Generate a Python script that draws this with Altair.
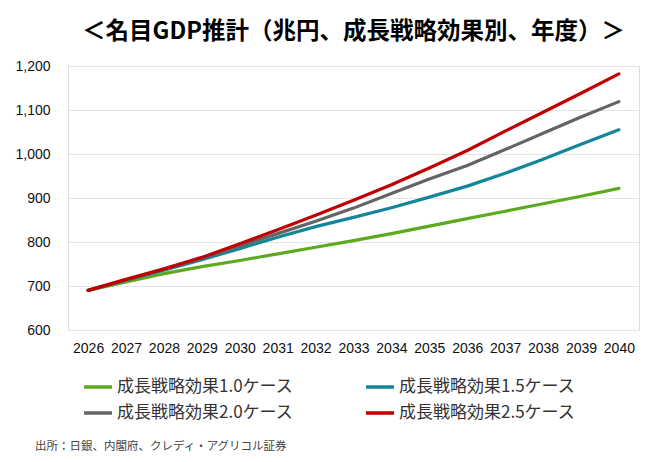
import altair as alt
import pandas as pd

years = [str(y) for y in range(2026, 2041)]
case_10 = [690, 709, 728, 744, 758, 773, 788, 803, 819, 836, 853, 870, 887, 904, 922]
case_15 = [690, 713, 736, 760, 785, 811, 835, 856, 878, 902, 927, 956, 988, 1022, 1055]
case_20 = [690, 714, 738, 763, 791, 819, 847, 877, 910, 943, 974, 1010, 1047, 1084, 1119]
case_25 = [690, 715, 739, 765, 796, 828, 861, 895, 930, 968, 1008, 1052, 1095, 1138, 1182]

series_names = ["成長戦略効果1.0ケース", "成長戦略効果1.5ケース",
                "成長戦略効果2.0ケース", "成長戦略効果2.5ケース"]
series_values = [case_10, case_15, case_20, case_25]
colors = ["#5DAA1F", "#13869A", "#646464", "#C00000"]
y_ticks = [600, 700, 800, 900, 1000, 1100, 1200]

title_text = "＜名目GDP推計（兆円、成長戦略効果別、年度）＞"
source_text = "出所：日銀、内閣府、クレディ・アグリコル証券"

rows = []
for order, (name, vals) in enumerate(zip(series_names, series_values)):
    for yr, v in zip(years, vals):
        rows.append({"year": yr, "value": v, "series": name, "order": order})
df = pd.DataFrame(rows)

# legend fills column-first: order the domain so rows read 1.0/1.5 then 2.0/2.5
legend_domain = [series_names[0], series_names[2], series_names[1], series_names[3]]
legend_range = [colors[0], colors[2], colors[1], colors[3]]

lines = alt.Chart(df).mark_line(strokeWidth=3.2, strokeCap="round").encode(
    x=alt.X("year:O", scale=alt.Scale(type="point", padding=0.53),
            axis=alt.Axis(title=None, labelAngle=0, ticks=False, domain=False,
                          labelFontSize=14, labelFont="Liberation Sans",
                          labelColor="#111", labelPadding=11, grid=False)),
    y=alt.Y("value:Q", scale=alt.Scale(domain=[600, 1200], nice=False, zero=False),
            axis=alt.Axis(title=None, values=y_ticks, format=",d", ticks=False,
                          domain=False, labelFontSize=14, labelFont="Liberation Sans",
                          labelColor="#111", labelPadding=18, gridColor="#e4e4e4",
                          gridWidth=1)),
    color=alt.Color("series:N", scale=alt.Scale(domain=legend_domain, range=legend_range),
                    legend=alt.Legend(title=None, orient="none", legendX=14, legendY=305,
                                      columns=2, columnPadding=65, rowPadding=2,
                                      symbolType="stroke", symbolSize=784,
                                      symbolStrokeWidth=3.5, labelOffset=3,
                                      labelFontSize=17, labelFont="Noto Sans CJK JP",
                                      labelColor="#333", labelLimit=400)),
    order=alt.Order("order:Q"),
    detail="series:N",
)

source = alt.Chart(pd.DataFrame({"t": [source_text]})).mark_text(
    align="left", baseline="middle", fontSize=11.5, font="Noto Sans CJK JP",
    color="#444"
).encode(text="t:N", x=alt.value(-33), y=alt.value(381))

chart = alt.layer(lines, source).properties(
    width=571, height=264,
    title=alt.Title(title_text, fontSize=23.5, font="Noto Sans CJK JP",
                    fontWeight="bold", color="#000", anchor="middle", offset=16),
    padding={"left": 60, "top": 58, "right": 11, "bottom": 124},
    autosize=alt.AutoSizeParams(type="none"),
).configure_view(stroke=None).configure(background="white")

chart.save("out.html", embed_options={"renderer": "svg", "actions": False})
